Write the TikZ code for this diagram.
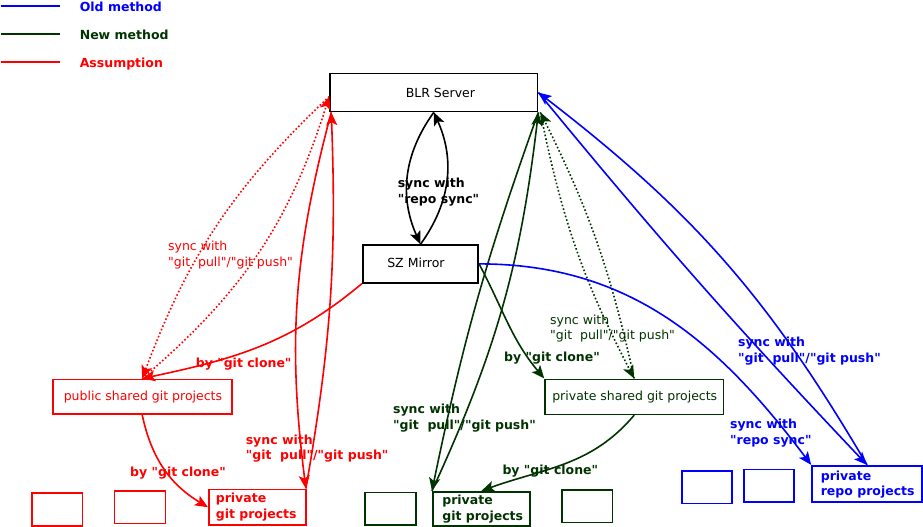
\documentclass[tikz,border=0pt]{standalone}
\usepackage{fontspec}
\setmainfont{DejaVu Sans}[Ligatures=TeXOff]
\usetikzlibrary{arrows.meta}
\definecolor{oldc}{RGB}{0,0,255}
\definecolor{newc}{RGB}{0,51,0}
\definecolor{asmc}{RGB}{255,0,0}
\begin{document}
\begin{tikzpicture}[x=1pt,y=1pt,line width=1.6pt,
  >={Stealth[length=13pt,width=11pt,inset=3pt]},
  box/.style={draw=#1,rectangle,inner sep=0pt,fill=white},
  tx/.style={anchor=base west,inner sep=0pt,font=\fontsize{12.5}{15.8}\selectfont},
  lb/.style={anchor=base west,inner sep=0pt,align=left,font=\fontsize{12.5}{15.8}\selectfont\bfseries},
  ln/.style={anchor=base west,inner sep=0pt,align=left,font=\fontsize{12.5}{15.8}\selectfont},
  dotline/.style={dash pattern=on 1.6pt off 2.2pt},
  legline/.style={line width=1.6pt,draw=#1}]
\useasboundingbox (0,0) rectangle (923,-527);

% main boxes
\node[box=black,minimum width=207.5,minimum height=38] (blr) at (433.8,-92.5) {};
\node[tx] (blrt) at (405,-97.3) {BLR Server};
\node[box=black,minimum width=115.5,minimum height=37.7] (sz) at (420.5,-263.9) {};
\node[tx] (szt) at (386.5,-267.7) {SZ Mirror};
\node[box=asmc,minimum width=179,minimum height=34.7] (pub) at (142.2,-396.7) {};
\node[tx,text=asmc] (pubt) at (63,-400.7) {public shared git projects};
\node[box=newc,minimum width=178.3,minimum height=35] (prs) at (634.2,-396.8) {};
\node[tx,text=newc] (prst) at (551.5,-400.7) {private shared git projects};

% bottom boxes
\node[box=asmc,minimum width=50.6,minimum height=32.7] (r1) at (57,-509.6) {};
\node[box=asmc,minimum width=51,minimum height=32.3] (r2) at (139.8,-507.2) {};
\node[box=asmc,minimum width=97.3,minimum height=35.7] (rpg) at (257.4,-507.2) {};
\node[lb,text=asmc] (rpgt) at (215,-518) {private\\git projects};
\node[box=newc,minimum width=50.7,minimum height=32.3] (g1) at (390.4,-508.8) {};
\node[box=newc,minimum width=97.3,minimum height=34] (gpg) at (481.4,-508.7) {};
\node[lb,text=newc] (gpgt) at (441.5,-520.1) {private\\git projects};
\node[box=newc,minimum width=50.6,minimum height=32.3] (g2) at (587,-506.2) {};
\node[box=oldc,minimum width=50,minimum height=32.3] (b1) at (706.7,-487.2) {};
\node[box=oldc,minimum width=50.3,minimum height=32.4] (b2) at (768.9,-485.5) {};
\node[box=oldc,minimum width=110,minimum height=36] (bpr) at (867,-483.7) {};
\node[lb,text=oldc] (bprt) at (820,-495.8) {private\\repo projects};

% black: repo sync
\draw[->] (blr.south) to[bend right=30] (sz.north);
\draw[->] (sz.north) to[bend right=30] (blr.south);
\node[lb] (lk) at (397,-203.5) {sync with\\"repo sync"};

% red
\draw[asmc,dotline,->] ([yshift=-4]blr.west) to[bend right=13] (pub.north);
\draw[asmc,dotline,->] (pub.north) to[bend right=16] ([yshift=-4]blr.west);
\node[ln,text=asmc] (lr1) at (167.3,-266.5) {sync with\\"git\ \ pull"/"git push"};
\draw[asmc,->] (sz.south west) to[out=220,in=12] (pub.north);
\node[lb,text=asmc] (lr2) at (195,-367.3) {by "git clone"};
\draw[asmc,->] ([xshift=2]blr.south west) to[bend right=11] ([xshift=-1]rpg.north east);
\draw[asmc,->] ([xshift=-1]rpg.north east) to[bend right=6] ([xshift=2]blr.south west);
\node[lb,text=asmc] (lr3) at (245,-459.8) {sync with\\"git\ \ pull"/"git push"};
\draw[asmc,->] (pub.south) to[out=-78,in=149] (rpg.west);
\node[lb,text=asmc] (lr4) at (129.3,-476) {by "git clone"};

% green
\draw[newc,->] (blr.south east) to[bend right=4] (gpg.north west);
\draw[newc,->] (gpg.north west) to[bend right=9] (blr.south east);
\node[lb,text=newc] (lg1) at (392.3,-429.1) {sync with\\"git\ \ pull"/"git push"};
\draw[newc,dotline,->] ([xshift=2]blr.south east) to[bend right=8] (prs.north);
\draw[newc,dotline,->] (prs.north) to[bend right=7] ([xshift=2]blr.south east);
\node[ln,text=newc] (lg2) at (549.3,-339.8) {sync with\\"git\ \ pull"/"git push"};
\draw[newc,->] (sz.east) to[out=-62,in=130] (prs.north west);
\node[lb,text=newc] (lg3) at (503.3,-361.7) {by "git clone"};
\draw[newc,->] (prs.south) to[out=-130,in=20] (gpg.north);
\node[lb,text=newc] (lg4) at (501.7,-474.3) {by "git clone"};

% blue
\draw[oldc,->] (sz.east) to[out=0,in=127] (bpr.north west);
\node[lb,text=oldc] (lb1t) at (729.3,-444.1) {sync with\\"repo sync"};
\draw[oldc,->] (blr.east) to[bend right=2] (bpr.north);
\draw[oldc,->] (bpr.north) to[bend right=11] (blr.east);
\node[lb,text=oldc] (lb2t) at (737.3,-362.5) {sync with\\"git\ \ pull"/"git push"};

% legend
\node[lb,text=oldc] (t1) at (79,-11.3) {Old method};
\node[lb,text=newc] (t2) at (79,-39.3) {New method};
\node[lb,text=asmc] (t3) at (79,-67.3) {Assumption};
\coordinate (la1) at (1,-6);
\coordinate (la2) at (60,-6);
\coordinate (lb1) at (1,-34);
\coordinate (lb2) at (60,-34);
\coordinate (lc1) at (1,-62);
\coordinate (lc2) at (60,-62);
\path[legline=oldc] (la1) -- (la2);
\path[legline=newc] (lb1) -- (lb2);
\path[legline=asmc] (lc1) -- (lc2);
\end{tikzpicture}
\end{document}
